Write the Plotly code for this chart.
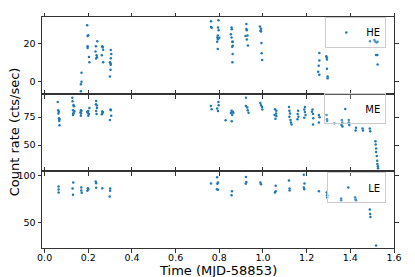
import plotly.graph_objects as go
from plotly.subplots import make_subplots

# ---------------- data ----------------
he_t = [0.169, 0.169, 0.166, 0.166, 0.195, 0.197, 0.200, 0.197, 0.197, 0.203, 0.205,
        0.241, 0.235, 0.233, 0.238, 0.240, 0.236, 0.264, 0.266, 0.268, 0.262, 0.268,
        0.303, 0.305, 0.303, 0.299, 0.302, 0.303, 0.302, 0.299,
        0.762, 0.762, 0.765, 0.796, 0.794, 0.797, 0.793, 0.791, 0.794, 0.790, 0.793, 0.800,
        0.856, 0.857, 0.853, 0.856, 0.859, 0.862, 0.862, 0.859, 0.861, 0.860,
        0.924, 0.924, 0.926, 0.920, 0.929, 0.926, 0.931,
        0.986, 0.991, 0.988, 0.991, 0.993, 0.994, 0.996,
        1.258, 1.258, 1.255, 1.253, 1.258, 1.290, 1.292, 1.293, 1.293, 1.296, 1.296,
        1.490, 1.510, 1.514, 1.520, 1.525, 1.518, 1.524, 1.525]
he_rate = [4.5, -0.2, -1.5, -5.2, 29.6, 24.0, 24.3, 18.5, 17.6, 12.9, 10.1,
           21.2, 18.6, 15.8, 13.8, 12.7, 12.0, 18.5, 18.0, 16.7, 13.8, 10.1,
           16.5, 14.4, 12.2, 10.1, 9.4, 8.8, 6.1, 2.6,
           31.8, 28.7, 28.3, 32.3, 28.5, 27.0, 24.2, 23.2, 22.3, 20.9, 17.1, 23.0,
           28.4, 27.5, 24.9, 23.2, 20.9, 20.9, 18.8, 18.3, 14.4, 10.1,
           30.3, 27.6, 27.0, 24.0, 24.2, 22.1, 19.0,
           29.0, 27.8, 26.7, 26.4, 20.2, 14.8, 11.3,
           15.0, 11.0, 8.2, 5.1, 3.5, 13.3, 12.4, 11.6, 6.6, 2.5, 1.6,
           21.2, 21.9, 21.0, 20.5, 20.9, 13.9, 13.9, 8.9]

me_t = [0.060, 0.062, 0.065, 0.063, 0.066, 0.068, 0.067, 0.068,
        0.127, 0.128, 0.132, 0.134, 0.130, 0.136, 0.133, 0.131, 0.130,
        0.166, 0.168, 0.164, 0.167, 0.166,
        0.195, 0.200, 0.198, 0.203, 0.200, 0.205,
        0.236, 0.235, 0.239, 0.240, 0.236, 0.238,
        0.264, 0.267, 0.265, 0.262,
        0.302, 0.303, 0.305, 0.299,
        0.761, 0.765, 0.790, 0.796, 0.797, 0.794,
        0.829, 0.856, 0.862, 0.853, 0.859, 0.864, 0.857,
        0.922, 0.922, 0.928, 0.930, 0.934,
        0.988, 0.991, 0.996, 0.997,
        1.055, 1.060, 1.053, 1.061, 1.057, 1.061,
        1.119, 1.121, 1.124, 1.121, 1.126, 1.128, 1.131,
        1.161, 1.159, 1.162, 1.158,
        1.192, 1.189, 1.192, 1.195, 1.189,
        1.227, 1.224, 1.229, 1.230, 1.229,
        1.256, 1.259, 1.256,
        1.291, 1.293, 1.294, 1.327,
        1.361, 1.363, 1.360, 1.364,
        1.393, 1.393, 1.395,
        1.426, 1.424, 1.456, 1.458, 1.489, 1.491,
        1.515, 1.516, 1.518, 1.518, 1.521, 1.523, 1.524, 1.526, 1.527]
me_rate = [88.4, 81.1, 79.6, 78.2, 73.9, 73.0, 71.5, 67.8,
           92.2, 89.0, 85.7, 84.6, 81.1, 80.2, 78.6, 77.9, 76.8,
           81.1, 80.3, 79.1, 78.2, 76.2,
           79.6, 80.3, 78.6, 77.6, 76.2, 83.1,
           89.2, 86.4, 85.2, 83.1, 80.3, 77.6,
           80.0, 79.4, 78.6, 77.4,
           81.7, 81.1, 76.2, 72.4,
           84.9, 82.0, 82.6, 88.4, 85.5, 80.3,
           72.1, 80.5, 79.6, 78.6, 76.8, 78.9, 71.3,
           92.2, 84.9, 83.5, 81.1, 78.8,
           87.5, 85.5, 84.0, 81.7,
           82.0, 78.2, 76.8, 75.9, 73.5, 80.6,
           84.0, 80.5, 78.2, 75.3, 72.4, 70.1, 68.3,
           80.5, 77.6, 75.3, 73.0,
           84.0, 81.7, 79.4, 76.8, 74.4,
           81.7, 79.6, 77.6, 73.9, 68.3,
           76.8, 74.8, 70.1,
           76.8, 73.0, 71.5, 69.5,
           72.4, 70.1, 68.0, 66.6,
           72.4, 70.1, 68.0,
           65.4, 63.1, 64.8, 63.1, 64.8, 62.4,
           53.5, 50.6, 47.1, 43.9, 40.4, 36.1, 33.2, 31.2, 29.4]

le_t = [0.064, 0.064, 0.064, 0.131, 0.128, 0.130, 0.168, 0.168, 0.170,
        0.198, 0.200, 0.196, 0.234, 0.236, 0.236, 0.264, 0.300, 0.300, 0.298,
        0.762, 0.790, 0.794, 0.791, 0.789, 0.794, 0.858, 0.856,
        0.922, 0.924, 0.921, 0.988, 0.991, 1.058, 1.058, 1.055,
        1.119, 1.122, 1.122, 1.187, 1.190, 1.187, 1.189, 1.256,
        1.292, 1.294, 1.294, 1.358, 1.358, 1.422, 1.424, 1.426,
        1.489, 1.491, 1.492, 1.518]
le_rate = [88.6, 85.4, 82.2, 92.9, 86.5, 79.8, 87.6, 84.4, 81.9,
           86.8, 85.7, 84.0, 94.0, 92.1, 87.2, 86.8, 86.5, 84.0, 78.0,
           91.8, 98.5, 92.9, 91.5, 85.7, 85.1, 83.6, 79.4,
           98.9, 93.6, 91.5, 92.9, 91.0, 89.4, 83.6, 82.2,
           95.0, 86.5, 84.4, 101.4, 91.8, 87.6, 85.7, 83.6,
           82.2, 79.4, 76.9, 75.9, 74.0, 77.2, 75.1, 74.0,
           64.1, 59.1, 56.0, 25.5]

labels = ["HE", "ME", "LE"]
y_ticks = [[0, 20], [50, 75], [50, 100]]
x_ticks = [0.0, 0.2, 0.4, 0.6, 0.8, 1.0, 1.2, 1.4, 1.6]

# ---------------- figure ----------------
COLOR = "#1f77b4"
FONT = "DejaVu Sans"

fig = make_subplots(rows=3, cols=1, shared_xaxes=True, vertical_spacing=0)

series = [(he_t, he_rate), (me_t, me_rate), (le_t, le_rate)]
legend_names = ["legend", "legend2", "legend3"]
for i, ((t, r), lab) in enumerate(zip(series, labels)):
    fig.add_trace(
        go.Scatter(x=t, y=r, mode="markers", name=lab,
                   marker=dict(color=COLOR, size=2.5, line=dict(width=0)),
                   legend=legend_names[i], showlegend=True),
        row=i + 1, col=1)

y_ranges = [[-6.7, 34], [27, 95.5], [22.7, 105.3]]
axis_style = dict(showline=True, linecolor="#333", linewidth=1, mirror="ticks",
                  ticks="outside", ticklen=3.5, tickwidth=1, tickcolor="#333",
                  showgrid=False, zeroline=False,
                  tickfont=dict(family=FONT, size=9.5, color="black"))
for i in range(3):
    fig.update_yaxes(range=y_ranges[i], tickvals=y_ticks[i], row=i + 1, col=1, **axis_style)
    fig.update_xaxes(range=[-0.012, 1.6], tickvals=x_ticks,
                     ticktext=[f"{v:.1f}" for v in x_ticks],
                     showticklabels=(i == 2), ticklabelstandoff=-3,
                     row=i + 1, col=1, **axis_style)

leg_common = dict(x=0.978, xanchor="right", yanchor="top",
                  bgcolor="rgba(255,255,255,0.2)", bordercolor="#cccccc", borderwidth=1,
                  font=dict(family=FONT, size=10, color="black"),
                  itemsizing="trace", tracegroupgap=0)
fig.update_layout(
    width=415, height=277,
    margin=dict(l=42, r=21, t=13, b=29),
    plot_bgcolor="white", paper_bgcolor="white",
    legend=dict(y=1.0, **leg_common),
    legend2=dict(y=0.669, **leg_common),
    legend3=dict(y=0.3285, **leg_common),
)

fig.add_annotation(text="Count rate (cts/sec)", xref="paper", yref="paper",
                   x=-0.078, y=0.503, textangle=-90, showarrow=False,
                   xanchor="center", yanchor="middle",
                   font=dict(family=FONT, size=13, color="black"))
fig.add_annotation(text="Time (MJD-58853)", xref="paper", yref="paper",
                   x=0.5, y=-0.097, showarrow=False,
                   xanchor="center", yanchor="middle",
                   font=dict(family=FONT, size=13, color="black"))

fig.write_html("out.html", config={"displayModeBar": False},
               post_script="document.body.style.margin='0';")
